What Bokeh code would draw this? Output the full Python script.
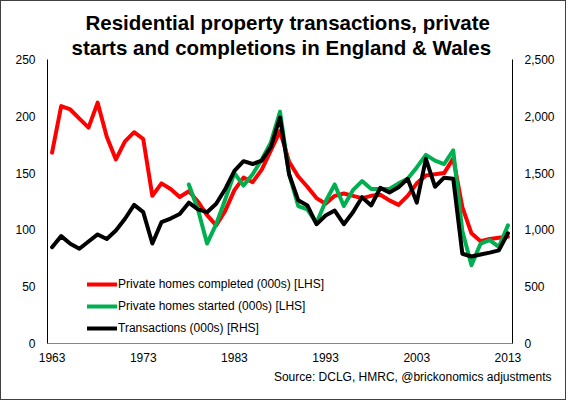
from bokeh.plotting import figure
from bokeh.models import (Range1d, LinearAxis, Title, Legend, LegendItem,
                          FixedTicker, NumeralTickFormatter)
from bokeh.embed import file_html
from bokeh.resources import INLINE

# ---------------- data ----------------
years = list(range(1963, 2014))
completed = [168, 209, 206, 198, 190, 212, 182, 162, 178, 186,
             180, 130, 141, 136, 129, 134, 125, 113, 104, 117,
             135, 146, 142, 153, 170, 187, 160, 147, 138, 128,
             123, 130, 132, 130, 128, 130, 131, 126, 122, 130,
             141, 148, 149, 150, 163, 120, 97, 90, 92, 93, 94]
started_years = list(range(1978, 2014))
started = [140, 118, 88, 105, 127, 150, 139, 149, 162, 177,
           204, 149, 121, 118, 106, 125, 140, 121, 135, 143,
           136, 136, 136, 141, 145, 155, 166, 161, 158, 170,
           99, 69, 88, 91, 85, 104]
transactions = [848, 945, 878, 834, 898, 960, 920, 995, 1098, 1220,
                1156, 880, 1068, 1100, 1140, 1240, 1180, 1156, 1230, 1360,
                1520, 1605, 1580, 1610, 1730, 1990, 1490, 1260, 1215, 1050,
                1127, 1170, 1050, 1156, 1288, 1215, 1370, 1330, 1376, 1450,
                1240, 1626, 1380, 1460, 1450, 790, 766, 783, 800, 820, 970]

x_ticks = [1963, 1973, 1983, 1993, 2003, 2013]
lhs_ticks = [0, 50, 100, 150, 200, 250]
rhs_ticks = [0, 500, 1000, 1500, 2000, 2500]

series_names = ["Private homes completed (000s) [LHS]",
                "Private homes started (000s) [LHS]",
                "Transactions (000s) [RHS]"]
title_lines = ["Residential property transactions, private",
               "starts and completions in England & Wales"]
source_text = "Source: DCLG, HMRC, @brickonomics adjustments"

FONT = "Liberation Sans"
RED = "#FF0000"
GREEN = "#00B050"

# ---------------- figure ----------------
p = figure(width=566, height=400, output_backend="svg", toolbar_location=None,
           x_range=Range1d(1962.5, 2013.5), y_range=Range1d(0, 250),
           min_border_left=46, min_border_right=55,
           min_border_top=58, min_border_bottom=58)
p.styles = {"border": "1px solid #404040"}
p.outline_line_color = None
p.xgrid.visible = False
p.ygrid.visible = False
p.background_fill_color = "white"
p.border_fill_color = "white"

p.extra_y_ranges = {"rhs": Range1d(0, 2500)}

for ax in (p.xaxis[0], p.yaxis[0]):
    ax.major_tick_in = 0
    ax.major_tick_out = 0
    ax.minor_tick_line_color = None
    ax.major_tick_line_color = None
    ax.major_label_text_font = FONT
    ax.major_label_text_font_size = "12px"
    ax.major_label_text_color = "black"

p.xaxis.ticker = FixedTicker(ticks=x_ticks)
p.xaxis.axis_line_color = "#868686"
p.xaxis.major_label_standoff = 9
p.yaxis.ticker = FixedTicker(ticks=lhs_ticks)
p.yaxis.axis_line_color = "black"
p.yaxis.major_label_standoff = 12

rax = LinearAxis(y_range_name="rhs", ticker=FixedTicker(ticks=rhs_ticks),
                 formatter=NumeralTickFormatter(format="0,0"))
rax.major_tick_in = 0
rax.major_tick_out = 0
rax.minor_tick_line_color = None
rax.major_tick_line_color = None
rax.axis_line_color = "black"
rax.major_label_text_font = FONT
rax.major_label_text_font_size = "12px"
rax.major_label_text_color = "black"
rax.major_label_standoff = 12
p.add_layout(rax, "right")

r_red = p.line(years, completed, line_color=RED, line_width=4,
               line_join="round", line_cap="round")
r_green = p.line(started_years, started, line_color=GREEN, line_width=4,
                 line_join="round", line_cap="round")
r_black = p.line(years, transactions, y_range_name="rhs", line_color="black",
                 line_width=4, line_join="round", line_cap="round")

legend = Legend(items=[LegendItem(label=series_names[0], renderers=[r_red]),
                       LegendItem(label=series_names[1], renderers=[r_green]),
                       LegendItem(label=series_names[2], renderers=[r_black])],
                location=(40, 6), border_line_color=None,
                background_fill_alpha=0, glyph_width=30, glyph_height=18,
                label_height=18, spacing=4, padding=0, margin=0,
                label_standoff=1, label_text_font=FONT,
                label_text_font_size="12px", label_text_color="black")
p.add_layout(legend)

# titles: second line added first so that it sits nearest the frame
p.add_layout(Title(text=title_lines[1], align="left", offset=24, standoff=1,
                   text_font=FONT, text_font_size="20.5px", text_font_style="bold",
                   text_color="black"), "above")
p.add_layout(Title(text=title_lines[0], align="left", offset=38, standoff=0,
                   text_font=FONT, text_font_size="20.5px", text_font_style="bold",
                   text_color="black"), "above")
p.add_layout(Title(text=source_text, align="right", offset=-39, standoff=6,
                   text_font=FONT, text_font_size="12px", text_font_style="normal",
                   text_color="black"), "below")

open("out.html", "w").write(file_html(p, INLINE))
